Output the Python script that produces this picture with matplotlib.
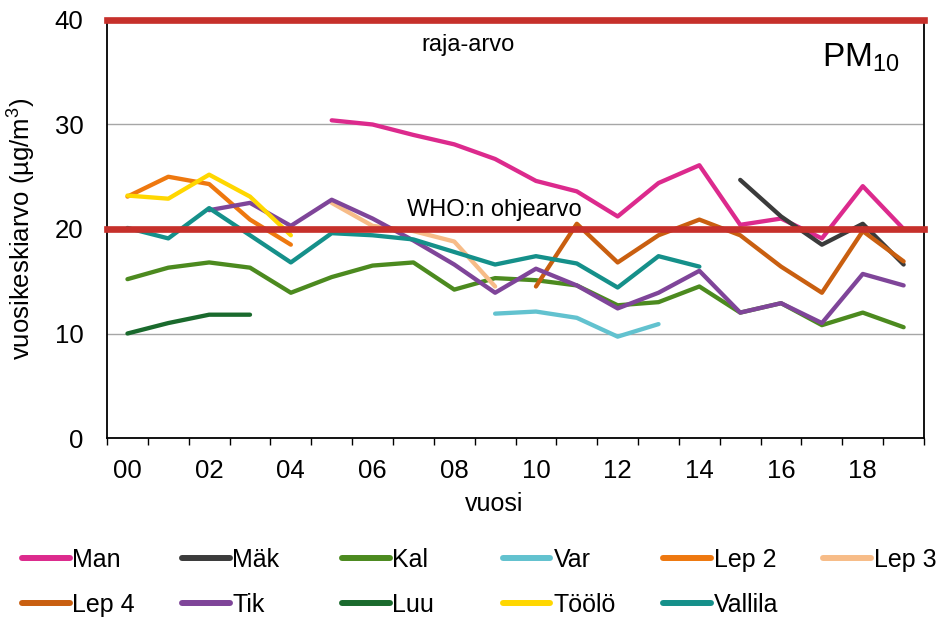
import matplotlib
matplotlib.use('Agg')
import matplotlib.pyplot as plt
import numpy as np
from matplotlib.lines import Line2D

plt.rcParams['font.family'] = ['Liberation Sans', 'DejaVu Sans']
plt.rcParams['mathtext.fontset'] = 'custom'
plt.rcParams['mathtext.rm'] = 'Liberation Sans'

nan = np.nan

# years 2000-2019, labels every other year
years = list(range(2000, 2020))
year_labels = ['00', '02', '04', '06', '08', '10', '12', '14', '16', '18']

# annual means of PM10 (ug/m3), nan = no measurement
man = [nan, nan, nan, nan, nan, 30.4, 30.0, 29.0, 28.1, 26.7,
       24.6, 23.6, 21.2, 24.4, 26.1, 20.4, 21.0, 19.1, 24.1, 20.0]
mak = [nan] * 15 + [24.7, 21.2, 18.5, 20.5, 16.6]
kal = [15.2, 16.3, 16.8, 16.3, 13.9, 15.4, 16.5, 16.8, 14.2, 15.3,
       15.1, 14.6, 12.7, 13.0, 14.5, 12.0, 12.9, 10.8, 12.0, 10.6]
var = [nan] * 9 + [11.9, 12.1, 11.5, 9.7, 10.9] + [nan] * 6
lep2 = [23.1, 25.0, 24.3, 20.9, 18.5] + [nan] * 15
lep3 = [nan] * 5 + [22.5, 20.3, 19.8, 18.8, 14.5] + [nan] * 10
lep4 = [nan] * 10 + [14.5, 20.5, 16.8, 19.4, 20.9, 19.4, 16.4, 13.9, 19.8, 16.9]
tik = [nan, nan, 21.8, 22.5, 20.3, 22.8, 21.0, 18.9, 16.6, 13.9,
       16.2, 14.6, 12.4, 13.9, 16.0, 12.0, 12.9, 11.0, 15.7, 14.6]
luu = [10.0, 11.0, 11.8, 11.8] + [nan] * 16
toolo = [23.2, 22.9, 25.2, 23.1, 19.4] + [nan] * 15
vallila = [20.1, 19.1, 22.0, 19.4, 16.8, 19.6, 19.4, 19.0, 17.8, 16.6,
           17.4, 16.7, 14.4, 17.4, 16.4] + [nan] * 5

series = [
    ('Man', man, '#DC2A8D'),
    ('Mäk', mak, '#3B3B3B'),
    ('Kal', kal, '#4C8A1F'),
    ('Var', var, '#62C2CF'),
    ('Lep 2', lep2, '#EE780F'),
    ('Lep 3', lep3, '#F7BC88'),
    ('Lep 4', lep4, '#C95F10'),
    ('Tik', tik, '#7F4599'),
    ('Luu', luu, '#1A6A2D'),
    ('Töölö', toolo, '#FFD700'),
    ('Vallila', vallila, '#15908A'),
]

limit_value = 40
who_value = 20
red = '#C6302B'

fig = plt.figure(figsize=(9.43, 6.19), dpi=100)
ax = fig.add_axes([0.1135, 0.2924, 0.8664, 0.6753])

x = np.arange(len(years))
handles = []
for name, vals, col in series:
    ax.plot(x, vals, color=col, lw=3.1, solid_capstyle='round',
            solid_joinstyle='round', label=name, zorder=3)
    handles.append(Line2D([], [], color=col, lw=4.3, solid_capstyle='round'))

# limit value and WHO guideline
ax.axhline(limit_value, color=red, lw=4.8, zorder=5, clip_on=False)
ax.axhline(who_value, color=red, lw=4.8, zorder=5, clip_on=False)

ax.set_xlim(-0.5, len(years) - 0.5)
ax.set_ylim(0, 40)
ax.set_yticks([0, 10, 20, 30, 40])
ax.yaxis.grid(True, color='#A6A6A6', lw=1)
ax.set_axisbelow(True)
ax.tick_params(axis='y', length=0, pad=17, labelsize=18.5)

ax.set_xticks(np.arange(-0.5, len(years), 1))
ax.set_xticklabels([])
ax.set_xticks(np.arange(0, len(years), 2), minor=True)
ax.set_xticklabels(year_labels, minor=True)
ax.tick_params(axis='x', which='major', length=5, width=1, direction='out')
ax.tick_params(axis='x', which='minor', length=0, pad=15, labelsize=18.5)

for s in ax.spines.values():
    s.set_linewidth(1.3)

ax.set_xlabel('vuosi', fontsize=18)
ax.xaxis.set_label_coords(0.474, -0.13)
ax.set_ylabel(r'vuosikeskiarvo (µg/m$\mathregular{^3}$)', fontsize=18.5)
ax.yaxis.set_label_coords(-0.084, 0.5)

ax.text(8.33, 37.6, 'raja-arvo', fontsize=17, ha='center', va='center')
ax.text(6.85, 21.8, 'WHO:n ohjearvo', fontsize=17, ha='left', va='center')
ax.text(0.97, 0.91, r'$\mathregular{PM_{10}}$', fontsize=24, ha='right', va='center',
        transform=ax.transAxes)

# legend, 6 columns x 2 rows
col_x = [22, 182, 342, 503, 663, 823]
row_y = [560, 605]
for i, ((name, vals, col), h) in enumerate(zip(series, handles)):
    r, c = divmod(i, 6)
    fig.legend(handles=[h], labels=[name], loc='center left',
               bbox_to_anchor=(col_x[c] / 943, 1 - row_y[r] / 619),
               frameon=False, fontsize=18, handlelength=1.9,
               handletextpad=0.12, borderpad=0, borderaxespad=0)

fig.savefig('out.png', dpi=100)
